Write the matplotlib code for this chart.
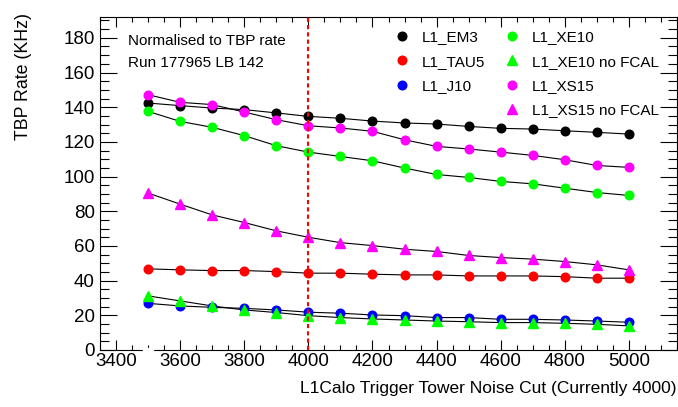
import matplotlib
matplotlib.use("Agg")
import matplotlib.pyplot as plt
from matplotlib.ticker import MultipleLocator
from matplotlib.lines import Line2D
from matplotlib.patches import Rectangle

plt.rcParams['font.family'] = ['Liberation Sans', 'DejaVu Sans']

# noise cut values (x)
noise_cut = [3500, 3600, 3700, 3800, 3900, 4000, 4100, 4200,
             4300, 4400, 4500, 4600, 4700, 4800, 4900, 5000]
current_cut = 4000

# TBP rates (KHz)
em3 = [142.4, 140.9, 139.5, 138.6, 136.7, 134.7, 133.6, 132.0,
       130.9, 130.3, 128.9, 127.8, 127.4, 126.4, 125.5, 124.5]
tau5 = [46.8, 46.2, 45.8, 45.8, 45.2, 44.3, 44.3, 43.7,
        43.3, 43.3, 42.7, 42.7, 42.7, 42.3, 41.4, 41.4]
j10 = [26.9, 25.4, 24.6, 24.0, 23.1, 21.8, 21.2, 20.2,
       19.8, 18.7, 18.7, 17.7, 17.7, 17.3, 16.7, 16.0]
xe10 = [137.6, 131.8, 128.4, 123.6, 117.8, 114.1, 111.6, 109.1,
        104.9, 101.2, 99.5, 97.2, 95.8, 93.3, 90.8, 89.1]
xe10_nofcal = [31.2, 28.3, 25.4, 23.1, 21.6, 19.8, 18.7, 17.9,
               17.3, 16.7, 16.3, 15.8, 15.8, 15.4, 14.8, 13.9]
xs15 = [147.2, 142.8, 141.5, 137.2, 132.8, 129.3, 128.0, 126.1,
        121.2, 117.4, 115.9, 114.1, 112.2, 109.7, 106.4, 105.3]
xs15_nofcal = [90.5, 84.1, 77.9, 73.5, 68.7, 65.0, 61.9, 60.2,
               58.1, 56.8, 54.5, 53.3, 52.4, 51.0, 49.1, 46.2]

series = [
    ("L1_EM3", em3, "#000000", "o"),
    ("L1_TAU5", tau5, "#ff0000", "o"),
    ("L1_J10", j10, "#0000ff", "o"),
    ("L1_XE10", xe10, "#00ff00", "o"),
    ("L1_XE10 no FCAL", xe10_nofcal, "#00ff00", "^"),
    ("L1_XS15", xs15, "#ff00ff", "o"),
    ("L1_XS15 no FCAL", xs15_nofcal, "#ff00ff", "^"),
]

W, H = 678, 407
fig = plt.figure(figsize=(W / 100, H / 100), dpi=100)
fig.subplots_adjust(left=100 / W, right=677 / W, bottom=57 / H, top=390 / H)
ax = fig.add_subplot(111)

handles = []
for label, vals, col, mk in series:
    ms = 6.2 if mk == "o" else 6.8
    # connecting line
    ax.plot(noise_cut, vals, color="black", lw=0.8, zorder=2)
    ax.plot(noise_cut, vals, ls="none", marker=mk, ms=ms, color=col,
            mec=col, zorder=3)
    handles.append(Line2D([], [], ls="none", marker=mk, ms=ms, color=col,
                          mec=col, label=label))

ax.axvline(current_cut, color="#ff0000", lw=1.5, ls=(0, (2, 1.5)), zorder=5)

ax.set_xlim(3350, 5150)
ax.set_ylim(0, 192)

# ROOT-like axes
ax.xaxis.set_major_locator(MultipleLocator(200))
ax.xaxis.set_minor_locator(MultipleLocator(50))
ax.yaxis.set_major_locator(MultipleLocator(20))
ax.yaxis.set_minor_locator(MultipleLocator(5))
ax.tick_params(axis="both", which="both", direction="in", top=True, right=True,
               labelsize=13.5, width=0.8, colors="black")
ax.tick_params(axis="y", which="major", length=12.2, pad=3.6)
ax.tick_params(axis="y", which="minor", length=6.4)
ax.tick_params(axis="x", which="major", length=7.2, pad=2.5)
ax.tick_params(axis="x", which="minor", length=3.6)
ax.set_yticks(range(0, 181, 20))
ax.set_xticks(range(3400, 5001, 200))
for sp in ax.spines.values():
    sp.set_linewidth(0.8)

ax.set_xlabel("L1Calo Trigger Tower Noise Cut (Currently 4000)",
              fontsize=12.5, loc="right", va="center")
ax.xaxis.set_label_coords(1.0, (350 - 388) / 333)
ax.set_ylabel("TBP Rate (KHz)", fontsize=12.8, loc="top", va="center")
ax.yaxis.set_label_coords((24 - 100) / 577, (350 - 13) / 333)

ax.text(0.049, 0.928, "Normalised to TBP rate", transform=ax.transAxes,
        fontsize=11, va="center", ha="left")
ax.text(0.049, 0.862, "Run 177965 LB 142", transform=ax.transAxes,
        fontsize=11, va="center", ha="left")

leg_kw = dict(frameon=False, fontsize=11, numpoints=1, handlelength=1.0,
              handletextpad=0.8, labelspacing=0.68, borderpad=0,
              borderaxespad=0, loc="upper left")
leg1 = ax.legend(handles=handles[:3], bbox_to_anchor=(0.510, 0.960), **leg_kw)
ax.add_artist(leg1)
ax.legend(handles=handles[3:], bbox_to_anchor=(0.701, 0.960), **leg_kw)

# small break in the bottom axis line, as in the original canvas
fig.add_artist(Rectangle((143 / W, (H - 352.5) / H), 10 / W, 5 / H,
                         transform=fig.transFigure, color="white", zorder=10))

fig.savefig("out.png", dpi=100)
